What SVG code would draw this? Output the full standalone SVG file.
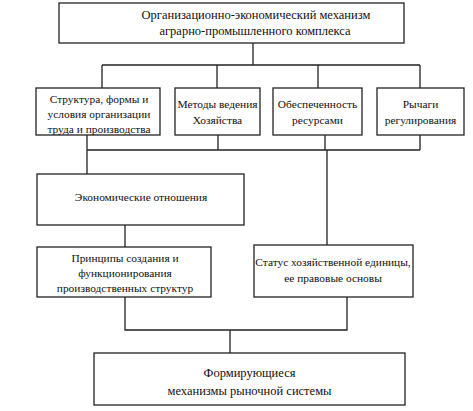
<svg xmlns="http://www.w3.org/2000/svg" width="473" height="411" viewBox="0 0 473 411">
<style>
.box{fill:#fff;stroke:#222;stroke-width:1.3}
text{font-family:'Liberation Serif','Times New Roman','DejaVu Serif',serif;font-size:11.4px;fill:#111;text-anchor:middle}
.b{font-size:12.5px}
.c{fill:none;stroke:#222;stroke-width:1.3}
</style>
<rect width="473" height="411" fill="#fff"/>
<g id="connectors" class="c">
<path d="M253 43V65M102 65H420M102 65V88M217 65V88M318 65V88M420 65V88"/>
<path d="M87 135V174M218 135V150M325 135V150M420 135V150M87 150H420M327 150V245"/>
<path d="M125 225V247"/>
<path d="M125 297V330H347V297M230 330V353"/>
</g>
<g id="n-top"><rect class="box" x="59" y="3" width="345" height="40"/>
<text class="b" x="256" y="19">Организационно-экономический механизм</text>
<text class="b" x="255" y="35">аграрно-промышленного комплекса</text></g>
<g id="n-struct"><rect class="box" x="36" y="88" width="124" height="47"/>
<text x="99" y="103">Структура, формы и</text>
<text x="99" y="118">условия организации</text>
<text x="99" y="133">труда и производства</text></g>
<g id="n-methods"><rect class="box" x="175" y="88" width="85" height="47"/>
<text x="217.5" y="108">Методы ведения</text>
<text x="217.5" y="124">Хозяйства</text></g>
<g id="n-resources"><rect class="box" x="273" y="88" width="89" height="47"/>
<text x="317.5" y="108">Обеспеченность</text>
<text x="317.5" y="124">ресурсами</text></g>
<g id="n-levers"><rect class="box" x="377" y="88" width="87" height="47"/>
<text x="420.5" y="108">Рычаги</text>
<text x="420.5" y="124">регулирования</text></g>
<g id="n-econ"><rect class="box" x="37" y="174" width="207" height="51"/>
<text x="141" y="201">Экономические отношения</text></g>
<g id="n-principles"><rect class="box" x="37" y="247" width="174" height="50"/>
<text x="125" y="262">Принципы создания и</text>
<text x="125" y="277">функционирования</text>
<text x="125" y="292">производственных структур</text></g>
<g id="n-status"><rect class="box" x="254" y="245" width="159" height="52"/>
<text x="333" y="266">Статус хозяйственной единицы,</text>
<text x="333" y="282">ее правовые основы</text></g>
<g id="n-forming"><rect class="box" x="94" y="353" width="311" height="52"/>
<text class="b" x="249.5" y="377">Формирующиеся</text>
<text class="b" x="249.5" y="395">механизмы рыночной системы</text></g>
</svg>
